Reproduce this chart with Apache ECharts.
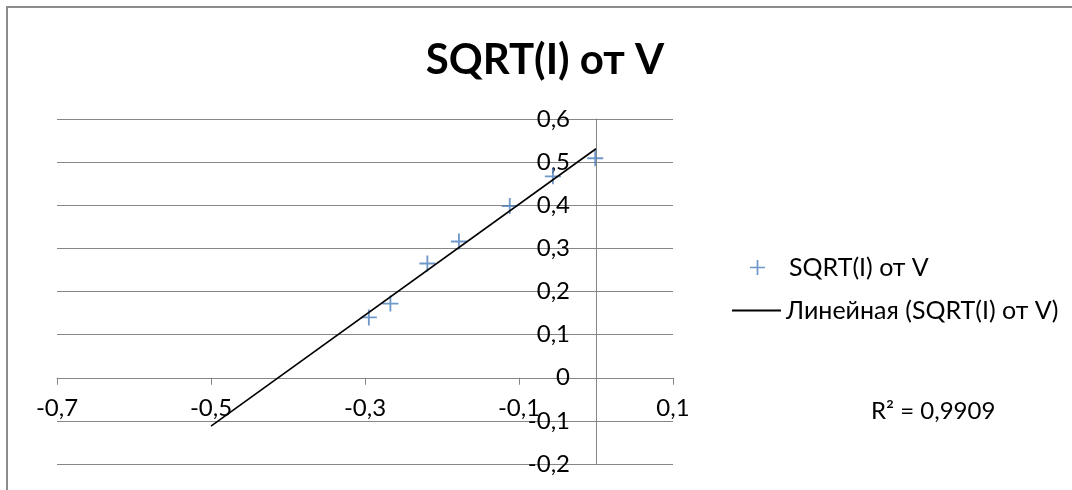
<!DOCTYPE html>
<html><head><meta charset="utf-8">
<script src="https://cdn.jsdelivr.net/npm/echarts@6/dist/echarts.min.js"></script>
<style>html,body{margin:0;padding:0;background:#fff}#c{width:1072px;height:490px}</style>
</head><body><div id="c"></div>
<script>
const titleText = 'SQRT(I) от V';
const seriesName = 'SQRT(I) от V';
const trendName = 'Линейная (SQRT(I) от V)';
const voltage = [-0.295, -0.267, -0.219, -0.178, -0.112, -0.056, -0.001];
const sqrtI = [0.140, 0.172, 0.265, 0.316, 0.398, 0.467, 0.509];
const trendX = [-0.5, 0];
const trendY = [-0.112, 0.531];
const rSquaredLabel = 'R² = 0,9909';
const xRange = [-0.7, 0.1, 0.2];
const yRange = [-0.2, 0.6, 0.1];

const FONT = 'Lato, "Open Sans", sans-serif';
const GRAY = '#868686';
const plusPath = 'path://M6.2,0H7.8V6.2H14V7.8H7.8V14H6.2V7.8H0V6.2H6.2Z';
const fmt = v => { let r = Math.round(v * 10) / 10; if (r === 0) return '0'; return String(r).replace('.', ','); };

// grid geometry
const G = { left: 57, right: 399, top: 119, bottom: 26 };
const plotW = 1072 - G.left - G.right, plotH = 490 - G.top - G.bottom;
// offsets that put each axis on the other's zero
const xAxisOffset = -plotH * (0 - yRange[0]) / (yRange[1] - yRange[0]);
const yAxisOffset = -plotW * (0 - xRange[0]) / (xRange[1] - xRange[0]);

const chart = echarts.init(document.getElementById('c'));
chart.setOption({
  animation: false,
  backgroundColor: '#fff',
  grid: { left: G.left, right: G.right, top: G.top, bottom: G.bottom, containLabel: false },
  xAxis: {
    type: 'value', min: xRange[0], max: xRange[1], interval: xRange[2],
    position: 'bottom', offset: xAxisOffset,
    axisLine: { show: true, onZero: false, lineStyle: { color: GRAY, width: 1 } },
    axisTick: { show: true, length: 7, lineStyle: { color: GRAY } },
    splitLine: { show: false },
    axisLabel: { formatter: fmt, fontFamily: FONT, fontSize: 24, color: '#000', margin: 19 }
  },
  yAxis: {
    type: 'value', min: yRange[0], max: yRange[1], interval: yRange[2],
    position: 'left', offset: yAxisOffset,
    axisLine: { show: true, onZero: false, lineStyle: { color: GRAY, width: 1 } },
    axisTick: { show: true, length: 7, lineStyle: { color: GRAY } },
    splitLine: { show: true, lineStyle: { color: GRAY, width: 1 } },
    axisLabel: { formatter: fmt, fontFamily: FONT, fontSize: 24, color: '#000', margin: 26 }
  },
  legend: [
    { data: [{ name: seriesName, icon: plusPath }], left: 750, top: 255, itemWidth: 15, itemHeight: 15, padding: 0,
      textStyle: { fontFamily: FONT, fontSize: 25, color: '#000', padding: [0, 0, 0, 19] } },
    { data: [{ name: trendName, icon: 'rect' }], left: 732, top: 298, itemWidth: 49, itemHeight: 2, padding: 0,
      textStyle: { fontFamily: FONT, fontSize: 25, color: '#000' } }
  ],
  graphic: [
    { type: 'rect', shape: { x: 7, y: 7, width: 1200, height: 600 }, style: { fill: 'none', stroke: '#8c8c8c', lineWidth: 2 }, silent: true },
    { type: 'text', x: 545, y: 60, style: { text: titleText, font: 'bold 42px ' + FONT, fill: '#000', textAlign: 'center', textVerticalAlign: 'middle' } },
    { type: 'text', x: 871, y: 411, style: { text: rSquaredLabel, font: '24px ' + FONT, fill: '#000', textAlign: 'left', textVerticalAlign: 'middle' } }
  ],
  series: [
    { name: seriesName, type: 'scatter', data: voltage.map((v, i) => [v, sqrtI[i]]),
      symbol: plusPath, symbolSize: 16, itemStyle: { color: '#4a7ebb' } },
    { name: trendName, type: 'line', data: trendX.map((v, i) => [v, trendY[i]]),
      symbol: 'none', showSymbol: false, color: '#000', itemStyle: { color: '#000' },
      lineStyle: { color: '#000', width: 1.6 }, z: 3 }
  ]
});
</script></body></html>
